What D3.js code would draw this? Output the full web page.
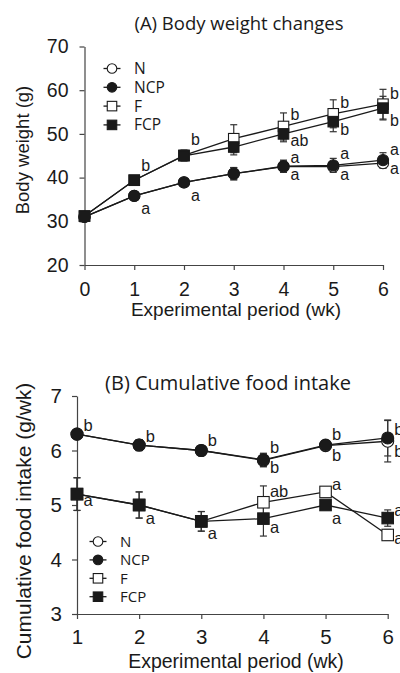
<!DOCTYPE html>
<html><head><meta charset="utf-8">
<script src="https://cdn.jsdelivr.net/npm/d3@7"></script>
<style>
html,body{margin:0;padding:0;background:#fff;}
svg{display:block;}
</style></head>
<body>
<svg id="chart" width="400" height="673"></svg>
<script>
// ---------------- DATA ----------------
const seriesNames = ["N", "NCP", "F", "FCP"];

// Panel A: body weight (g), weeks 0..6
const weeksA = [0, 1, 2, 3, 4, 5, 6];
const bwN   = [31.0, 35.8, 38.9, 40.9, 42.5, 42.5, 43.3];
const bwNCP = [31.0, 35.8, 38.9, 40.9, 42.6, 42.8, 44.0];
const bwF   = [31.2, 39.4, 45.1, 48.9, 51.7, 54.6, 56.8];
const bwFCP = [31.2, 39.4, 45.0, 47.0, 50.0, 52.8, 55.9];
const seN_A   = [0.5, 0.6, 0.6, 1.4, 1.3, 1.1, 1.2];
const seNCP_A = [0.5, 0.6, 0.6, 1.4, 1.4, 1.6, 1.7];
const seF_A   = [0.5, 0.6, 1.2, 3.2, 3.1, 3.2, 3.4];
const seFCP_A = [0.5, 0.6, 1.2, 1.8, 1.8, 2.3, 2.7];
const yTicksA = [20, 30, 40, 50, 60, 70];

// Panel B: cumulative food intake (g/wk), weeks 1..6
const weeksB = [1, 2, 3, 4, 5, 6];
const fiN   = [6.30, 6.10, 6.00, 5.82, 6.09, 6.17];
const fiNCP = [6.30, 6.10, 6.00, 5.83, 6.10, 6.23];
const fiF   = [5.20, 5.00, 4.70, 5.05, 5.24, 4.45];
const fiFCP = [5.20, 5.00, 4.70, 4.75, 5.00, 4.76];
const seN_B   = [0.05, 0.10, 0.07, 0.12, 0.04, 0.38];
const seNCP_B = [0.05, 0.10, 0.07, 0.12, 0.04, 0.33];
const seF_B   = [0.30, 0.24, 0.18, 0.30, 0.04, 0.10];
const seFCP_B = [0.30, 0.24, 0.18, 0.32, 0.04, 0.15];
const yTicksB = [3, 4, 5, 6, 7];

// significance letters: [week, series anchored to, letter]
const lettersA = [
  [1, "FCP", "b"], [1, "NCP", "a"],
  [2, "FCP", "b"], [2, "NCP", "a"],
  [4, "F", "b"], [4, "FCP", "ab"], [4, "NCP", "a"], [4, "N", "a"],
  [5, "F", "b"], [5, "FCP", "b"], [5, "NCP", "a"], [5, "N", "a"],
  [6, "F", "b"], [6, "FCP", "b"], [6, "NCP", "a"], [6, "N", "a"]
];
const lettersB = [
  [1, "NCP", "b"], [1, "FCP", "a"],
  [2, "NCP", "b"], [2, "FCP", "a"],
  [3, "NCP", "b"], [3, "FCP", "a"],
  [4, "NCP", "b"], [4, "N", "b"], [4, "F", "ab"], [4, "FCP", "a"],
  [5, "NCP", "b"], [5, "N", "b"], [5, "F", "a"], [5, "FCP", "a"],
  [6, "NCP", "b"], [6, "N", "b"], [6, "FCP", "a"], [6, "F", "a"]
];

const titleA = "(A) Body weight changes";
const titleB = "(B) Cumulative food intake";
const yLabelA = "Body weight (g)";
const yLabelB = "Cumulative food intake (g/wk)";
const xLabel = "Experimental period (wk)";

// ---------------- LAYOUT ----------------
const svg = d3.select("#chart");
const ARIAL = "'Liberation Sans', Arial, sans-serif";
const CAL = "'Open Sans', sans-serif";
const INK = "#1a1a1a";
const AX = "#444";

// vertical offsets for letters (layout only)
const letterDyA = [-15, 12, -16, 13, -12, 6, -9, 8, -11, 8, -12, 8, -11, 12, -11, 5];
const letterDyB = [-9, 6, -9, 13, -10, 12, -13, 7, -11, 9, -11, 10, -8, 13, -9, 10, -8, 3];

function panel(cfg) {
  const g = svg.append("g");
  const x = d3.scaleLinear().domain(cfg.xDomain).range(cfg.xRange);
  const y = d3.scaleLinear().domain(cfg.yDomain).range(cfg.yRange);
  const fmt = d3.format("d");

  // axes
  const yAxis = d3.axisLeft(y).tickValues(cfg.yTicks).tickFormat(fmt).tickSize(5).tickPadding(cfg.yPad).tickSizeOuter(0);
  const xAxis = d3.axisBottom(x).tickValues(cfg.weeks).tickFormat(fmt).tickSize(5).tickPadding(cfg.xPad).tickSizeOuter(0);
  const ga = g.append("g").attr("transform", `translate(${cfg.xRange[0]},0)`).call(yAxis);
  const gb = g.append("g").attr("transform", `translate(0,${cfg.yRange[0]})`).call(xAxis);
  [ga, gb].forEach(a => {
    a.attr("font-family", null).attr("font-size", null);
    a.select(".domain").attr("stroke", AX).attr("stroke-width", 1.2);
    a.selectAll(".tick line").attr("stroke", AX).attr("stroke-width", 1.2);
    a.selectAll(".tick text").attr("fill", INK).style("font-family", ARIAL).style("font-size", cfg.tickFont + "px");
  });

  // titles
  g.append("text").attr("x", cfg.titleX).attr("y", cfg.titleY).attr("text-anchor", "middle")
    .style("font-family", CAL).style("font-size", cfg.titleFont + "px").attr("fill", INK).text(cfg.title);
  g.append("text").attr("x", cfg.xLabX).attr("y", cfg.xLabY).attr("text-anchor", "middle")
    .style("font-family", ARIAL).style("font-size", cfg.xLabFont + "px").attr("fill", INK).text(xLabel);
  g.append("text").attr("transform", `translate(${cfg.yLabX},${cfg.yLabY}) rotate(-90)`).attr("text-anchor", "middle")
    .style("font-family", ARIAL).style("font-size", cfg.yLabFont + "px").attr("fill", INK).text(cfg.yLabel);

  const line = d3.line().x(d => x(d[0])).y(d => y(d[1]));
  const order = ["N", "NCP", "F", "FCP"];
  // lines
  order.forEach(k => {
    const pts = cfg.weeks.map((w, i) => [w, cfg.vals[k][i]]);
    g.append("path").attr("d", line(pts)).attr("fill", "none").attr("stroke", INK).attr("stroke-width", 1.3);
  });
  // error bars
  order.forEach(k => {
    cfg.weeks.forEach((w, i) => {
      const v = cfg.vals[k][i], e = cfg.se[k][i];
      const cx = x(w), y1 = y(v + e), y2 = y(v - e);
      g.append("line").attr("x1", cx).attr("x2", cx).attr("y1", y1).attr("y2", y2).attr("stroke", "#333").attr("stroke-width", 1.2);
      [y1, y2].forEach(yy => g.append("line").attr("x1", cx - 3.5).attr("x2", cx + 3.5).attr("y1", yy).attr("y2", yy).attr("stroke", "#333").attr("stroke-width", 1.2));
    });
  });
  // markers
  order.forEach(k => {
    cfg.weeks.forEach((w, i) => {
      drawMarker(g, k, x(w), y(cfg.vals[k][i]), cfg.mr, cfg.ms);
    });
  });
  // letters
  cfg.letters.forEach((L, i) => {
    const [w, k, t] = L;
    const idx = cfg.weeks.indexOf(w);
    g.append("text").attr("x", x(w) + cfg.letterDx).attr("y", y(cfg.vals[k][idx]) + cfg.letterDy[i])
      .attr("dy", "0.35em").style("font-family", ARIAL).style("font-size", cfg.letterFont + "px")
      .attr("fill", INK).text(t);
  });
  // legend
  seriesNames.forEach((k, i) => {
    const ly = cfg.legY + i * cfg.legStep;
    g.append("line").attr("x1", cfg.legX - 8.5).attr("x2", cfg.legX + 8.5).attr("y1", ly).attr("y2", ly).attr("stroke", INK).attr("stroke-width", 1.3);
    drawMarker(g, k, cfg.legX, ly, 4.8, 9.5);
    g.append("text").attr("x", cfg.legX + 22).attr("y", ly).attr("dy", "0.36em")
      .style("font-family", CAL).style("font-size", cfg.legFont + "px").attr("fill", INK).text(k);
  });
}

function drawMarker(g, k, cx, cy, r, s) {
  const filled = (k === "NCP" || k === "FCP");
  const fill = filled ? INK : "#fff";
  if (k === "N" || k === "NCP") {
    g.append("circle").attr("cx", cx).attr("cy", cy).attr("r", r).attr("fill", fill).attr("stroke", INK).attr("stroke-width", 1.1);
  } else {
    g.append("rect").attr("x", cx - s / 2).attr("y", cy - s / 2).attr("width", s).attr("height", s).attr("fill", fill).attr("stroke", INK).attr("stroke-width", 1.1);
  }
}

panel({
  weeks: weeksA, xDomain: [0, 6], xRange: [84.5, 383], yDomain: [20, 70], yRange: [265, 46.5],
  yTicks: yTicksA, vals: { N: bwN, NCP: bwNCP, F: bwF, FCP: bwFCP },
  se: { N: seN_A, NCP: seNCP_A, F: seF_A, FCP: seFCP_A },
  tickFont: 19.5, yPad: 11, xPad: 12,
  title: titleA, titleX: 239, titleY: 30, titleFont: 18.5,
  xLabX: 236, xLabY: 316, xLabFont: 19,
  yLabel: yLabelA, yLabX: 28.5, yLabY: 150, yLabFont: 18.5,
  mr: 5.6, ms: 10.5,
  letters: lettersA, letterDy: letterDyA, letterDx: 7, letterFont: 16,
  legX: 112, legY: 68.5, legStep: 18.8, legFont: 15.5
});

panel({
  weeks: weeksB, xDomain: [1, 6], xRange: [77, 387.7], yDomain: [3, 7], yRange: [614, 396],
  yTicks: yTicksB, vals: { N: fiN, NCP: fiNCP, F: fiF, FCP: fiFCP },
  se: { N: seN_B, NCP: seNCP_B, F: seF_B, FCP: seFCP_B },
  tickFont: 20.5, yPad: 10, xPad: 10,
  title: titleB, titleX: 228, titleY: 390, titleFont: 20,
  xLabX: 236, xLabY: 668, xLabFont: 19.5,
  yLabel: yLabelB, yLabX: 30.5, yLabY: 521, yLabFont: 21,
  mr: 6, ms: 11.5,
  letters: lettersB, letterDy: letterDyB, letterDx: 6.5, letterFont: 16.5,
  legX: 98, legY: 541.5, legStep: 18.4, legFont: 15
});
</script>
</body></html>
